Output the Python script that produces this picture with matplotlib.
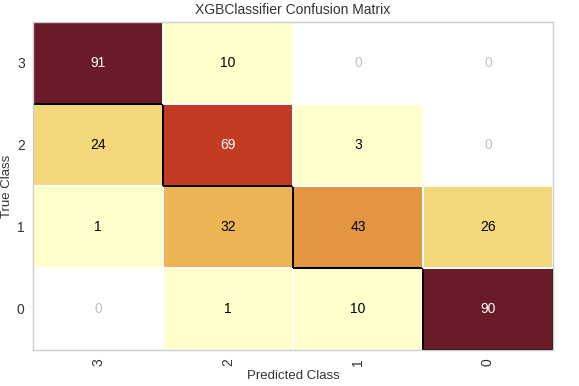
import numpy as np
import matplotlib
matplotlib.use("Agg")
import matplotlib.pyplot as plt
from matplotlib.colors import ListedColormap

classes = ["3", "2", "1", "0"]
# rows: true class 3,2,1,0 (top to bottom); cols: predicted 3,2,1,0
matrix = [
    [91, 10, 0, 0],
    [24, 69, 3, 0],
    [1, 32, 43, 26],
    [0, 1, 10, 90],
]
palette = ["#ffffcc", "#fff0b0", "#f3d87a", "#ecb452", "#e39542",
           "#d86a35", "#c23b22", "#952726", "#6b1a28"]

plt.rcParams["font.family"] = ["Liberation Sans", "DejaVu Sans"]

cm = np.array(matrix, dtype=float)
disp = cm[::-1, :]  # bottom row first
n = len(classes)
cmap = ListedColormap(palette)
cmap.set_under("w")

fig = plt.figure(figsize=(5.79, 3.86), dpi=100)
ax = fig.add_axes([33 / 579, 36 / 386, 520 / 579, 328 / 386])

xticklabels = classes
yticklabels = classes[::-1]
edgecolors = []
for r in range(n):
    for c in range(n):
        v = disp[r, c]
        base = cmap(v / disp.max()) if v > 0 else (1, 1, 1, 1)
        rgb = np.array(base[:3]) * 255
        bright = np.sqrt(np.dot(np.array([0.241, 0.691, 0.068]), rgb ** 2))
        tc = "black" if bright > 130 else "white"
        if v == 0:
            tc = "0.75"
        ax.text(c + 0.5, r + 0.5, "{:0.0f}".format(v), ha="center", va="center",
                color=tc, fontsize=10)
        edgecolors.append("k" if xticklabels[c] == yticklabels[r] else "w")

X = np.arange(n + 1)
Y = np.arange(n + 1)
ax.pcolormesh(X, Y, disp, vmin=0.00001, vmax=disp.max(), cmap=cmap,
              edgecolors=edgecolors, linewidth=1.2)

ax.set_xlim(0, n)
ax.set_ylim(0, n)
ticks = np.arange(n) + 0.5
ax.set_xticks(ticks)
ax.set_yticks(ticks)
ax.set_xticklabels(xticklabels, rotation="vertical", fontsize=10)
ax.set_yticklabels(yticklabels, fontsize=10)
ax.tick_params(axis="y", length=0, pad=6, colors="#333333")
ax.tick_params(axis="x", length=0, pad=6, colors="#333333")
for s in ax.spines.values():
    s.set_color("#cccccc")
    s.set_linewidth(1.0)
ax.set_xlabel("Predicted Class", fontsize=9.5, color="#333333", labelpad=3)
ax.set_ylabel("True Class", fontsize=9.5, color="#333333", labelpad=3)
ax.set_title("XGBClassifier Confusion Matrix", fontsize=10, color="#333333", pad=6)

fig.savefig("out.png", dpi=100)
